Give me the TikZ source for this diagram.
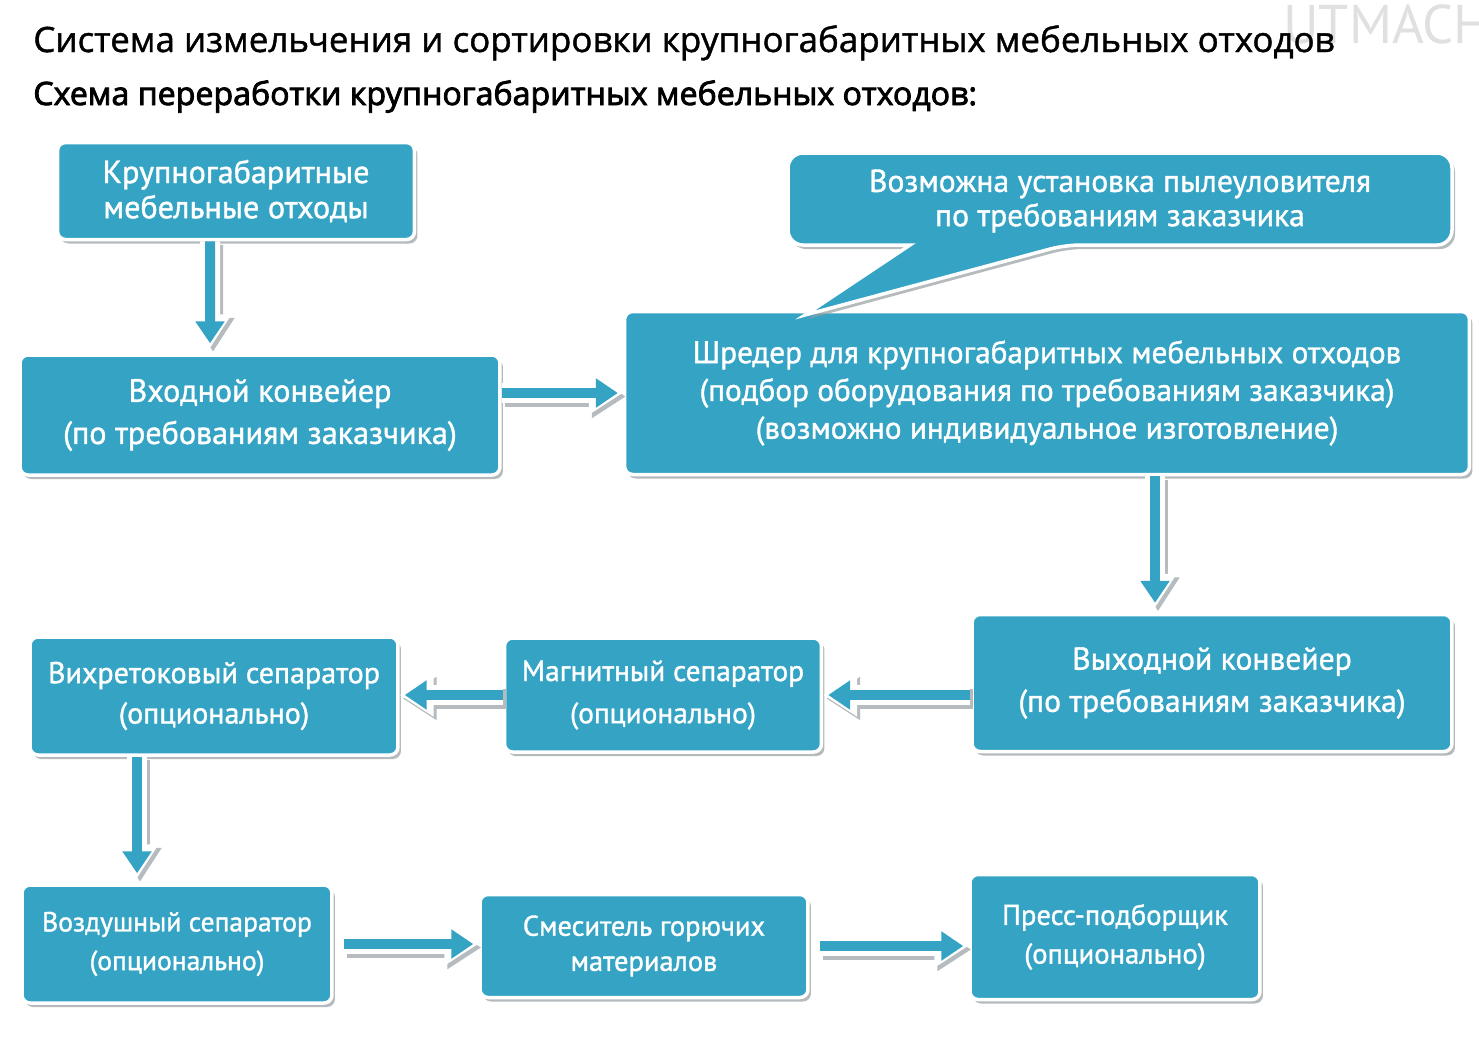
\documentclass[tikz,border=0pt]{standalone}
\usepackage{fontspec}
\setmainfont{PT Sans}[FakeBold=1.2]
\newfontfamily\headfont{Open Sans}[FakeBold=1.2]
\newfontfamily\subfont{Open Sans}[FakeBold=2.6]
\newfontfamily\markfont{PT Sans}
\usetikzlibrary{arrows.meta,shadows}
\definecolor{boxc}{RGB}{52,163,196}
\definecolor{shadc}{RGB}{150,158,162}
\def\ls#1#2{\fontsize{#1}{#2}\selectfont}
\tikzstyle{blok}=[rectangle,rounded corners=.16cm,fill=boxc,draw=white,line width=.07cm,text=white,align=center,inner sep=0pt,
  drop shadow={shadow xshift=.06cm,shadow yshift=-.08cm,fill=shadc,opacity=.7}]
\tikzstyle{flow}=[draw=boxc,line width=.2cm,-{Triangle[width=.56cm,length=.44cm]},shorten >=.1cm,
  preaction={draw=shadc!70,line width=.4cm,shorten >=0pt,-{Triangle[width=.82cm,length=.68cm]},transform canvas={shift={(.06cm,-.07cm)}}},
  preaction={draw=white,line width=.4cm,shorten >=0pt,-{Triangle[width=.82cm,length=.68cm]}}]

\begin{document}
\begin{tikzpicture}[x=.02cm,y=-.02cm]
\useasboundingbox[fill=white] (0,0) rectangle (1479,1063);
% titles
\node[anchor=base west,inner sep=0pt,text=black!12,font=\markfont\ls{31}{34}] (mark) at (1283,43) {UTMACH};
\node[anchor=base west,inner sep=0pt,font=\headfont\ls{19.9}{22}] (title) at (33,52) {Система измельчения и сортировки крупногабаритных мебельных отходов};
\node[anchor=base west,inner sep=0pt,font=\subfont\ls{18.3}{22}] (subtitle) at (33,105) {Схема переработки крупногабаритных мебельных отходов:};
% boxes
\node[blok,minimum width=7.14cm,minimum height=1.94cm,font=\ls{18.3}{20}] (kgo) at (236,191) {Крупногабаритные\\мебельные отходы};
\node[blok,minimum width=9.6cm,minimum height=2.4cm,font=\ls{18.3}{24}] (vhod) at (260,415) {Входной конвейер\\(по требованиям заказчика)};
\node[blok,minimum width=16.9cm,minimum height=3.26cm,font=\ls{17.8}{21.5}] (shred) at (1047,393) {Шредер для крупногабаритных мебельных отходов\\(подбор оборудования по требованиям заказчика)\\(возможно индивидуальное изготовление)};
\node[blok,minimum width=9.6cm,minimum height=2.74cm,font=\ls{18}{24}] (vyhod) at (1212,683) {Выходной конвейер\\(по требованиям заказчика)};
\node[blok,minimum width=6.34cm,minimum height=2.28cm,font=\ls{16.7}{24}] (magn) at (663,695) {Магнитный сепаратор\\(опционально)};
\node[blok,minimum width=7.36cm,minimum height=2.36cm,font=\ls{17.1}{23}] (vihr) at (214,696) {Вихретоковый сепаратор\\(опционально)};
\node[blok,minimum width=6.2cm,minimum height=2.36cm,font=\ls{15.7}{22}] (vozd) at (177,944) {Воздушный сепаратор\\(опционально)};
\node[blok,minimum width=6.56cm,minimum height=2.06cm,font=\ls{16.2}{20}] (smes) at (644,946) {Смеситель горючих\\материалов};
\node[blok,minimum width=5.8cm,minimum height=2.5cm,font=\ls{16.3}{22}] (press) at (1115,937) {Пресс-подборщик\\(опционально)};
% callout
\coordinate (tip) at (805,315);
\filldraw[fill=boxc,draw=white,line width=.07cm,drop shadow={shadow xshift=.06cm,shadow yshift=-.08cm,fill=shadc,opacity=.7}]
  (788,200) [rounded corners=.3cm] -- (788,153) -- (1452,153) -- (1452,245) -- (1065,245) [sharp corners] -- (tip) -- (910,245) [rounded corners=.3cm] -- (788,245) -- cycle;
\node[text=white,align=center,font=\ls{18}{19.5}] (hint) at (1120,201) {Возможна установка пылеуловителя\\по требованиям заказчика};
% arrows
\draw[flow] ([xshift=-.52cm]kgo.south) -- ([xshift=-1cm,yshift=.1cm]vhod.north);
\draw[flow] (vhod.east |- shred.west) -- (shred.west);
\draw[flow] ([xshift=-1.14cm]vyhod.north |- shred.south) -- ([xshift=-1.14cm,yshift=.1cm]vyhod.north);
\draw[flow] (vyhod.west |- magn.east) -- (magn.east);
\draw[flow] (magn.west) -- (vihr.east |- magn.west);
\draw[flow] ([xshift=-.8cm]vozd.north |- vihr.south) -- ([xshift=-.8cm,yshift=.1cm]vozd.north);
\draw[flow] ([xshift=.2cm]vozd.east) -- (smes.west |- vozd.east);
\draw[flow] ([xshift=.2cm]smes.east) -- (press.west |- smes.east);
\end{tikzpicture}
\end{document}
